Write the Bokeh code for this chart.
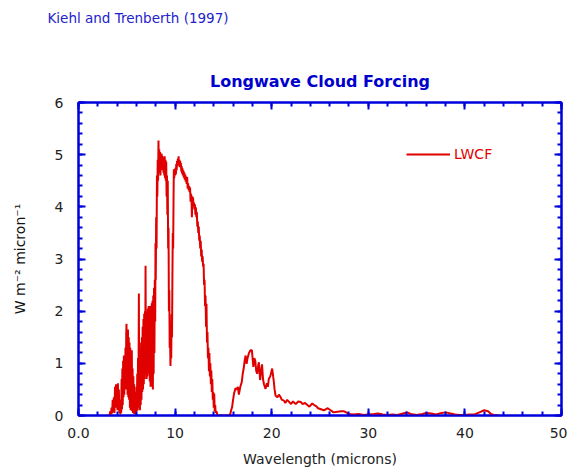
from bokeh.plotting import figure
from bokeh.models import (Range1d, LinearAxis, SingleIntervalTicker, Title,
                          Legend, LegendItem, ColumnDataSource)
from bokeh.embed import file_html
from bokeh.resources import INLINE

# ---- data ----
wavelength = [
    3.20, 3.30, 3.36, 3.42, 3.48, 3.54, 3.60, 3.66, 3.72, 3.78, 3.83, 3.88, 3.93, 3.98,
    4.03, 4.08, 4.13, 4.18, 4.23, 4.28, 4.33, 4.38, 4.42, 4.46, 4.50, 4.54, 4.58, 4.62,
    4.66, 4.70, 4.74, 4.78, 4.82, 4.86, 4.90, 4.94, 4.97, 5.00, 5.04, 5.08, 5.12, 5.16,
    5.20, 5.24, 5.28, 5.32, 5.36, 5.40, 5.44, 5.48, 5.52, 5.56, 5.60, 5.64, 5.68, 5.72,
    5.76, 5.80, 5.84, 5.88, 5.92, 5.96, 6.00, 6.04, 6.08, 6.12, 6.16, 6.20, 6.25, 6.28,
    6.32, 6.36, 6.40, 6.44, 6.48, 6.52, 6.56, 6.60, 6.64, 6.68, 6.72, 6.76, 6.80, 6.84,
    6.88, 6.91, 6.94, 6.98, 7.02, 7.06, 7.10, 7.14, 7.18, 7.22, 7.26, 7.30, 7.34, 7.38,
    7.42, 7.46, 7.50, 7.54, 7.58, 7.62, 7.66, 7.70, 7.74, 7.78, 7.82, 7.86, 7.90, 7.94,
    7.97, 8.00, 8.04, 8.08, 8.12, 8.16, 8.20, 8.24, 8.28, 8.32, 8.36, 8.40, 8.44, 8.48,
    8.52, 8.56, 8.60, 8.64, 8.68, 8.72, 8.76, 8.80, 8.84, 8.88, 8.92, 8.96, 9.00, 9.04,
    9.08, 9.12, 9.16, 9.20, 9.24, 9.28, 9.32, 9.36, 9.40, 9.44, 9.48, 9.52, 9.56, 9.60,
    9.64, 9.68, 9.72, 9.76, 9.80, 9.84, 9.87, 9.91, 9.95, 10.00, 10.04, 10.08, 10.12,
    10.16, 10.20, 10.24, 10.28, 10.32, 10.36, 10.40, 10.44, 10.48, 10.52, 10.56, 10.60,
    10.64, 10.68, 10.72, 10.76, 10.80, 10.85, 10.90, 10.95, 11.00, 11.05, 11.10, 11.15,
    11.20, 11.25, 11.30, 11.35, 11.40, 11.45, 11.50, 11.55, 11.60, 11.65, 11.70, 11.74,
    11.78, 11.82, 11.86, 11.90, 11.95, 12.00, 12.05, 12.10, 12.15, 12.20, 12.25, 12.30,
    12.35, 12.40, 12.45, 12.50, 12.55, 12.60, 12.65, 12.70, 12.75, 12.80, 12.85, 12.90,
    12.95, 13.00, 13.05, 13.10, 13.15, 13.20, 13.25, 13.30, 13.35, 13.40, 13.45, 13.50,
    13.55, 13.60, 13.65, 13.70, 13.75, 13.80, 13.85, 13.90, 13.95, 14.00, 14.05, 14.10,
    14.15, 14.20, 14.28, 14.36, 14.45, 15.00, 15.50, 15.70, 15.80, 15.90, 16.00, 16.10,
    16.25, 16.40, 16.50, 16.60, 16.75, 16.90, 17.00, 17.10, 17.20, 17.30, 17.40, 17.50,
    17.65, 17.80, 17.95, 18.10, 18.20, 18.30, 18.40, 18.50, 18.60, 18.67, 18.80, 18.90,
    19.00, 19.10, 19.20, 19.36, 19.50, 19.60, 19.70, 19.85, 20.05, 20.15, 20.20, 20.30,
    20.40, 20.60, 20.75, 20.90, 21.05, 21.25, 21.40, 21.60, 21.80, 22.00, 22.20, 22.30,
    22.50, 22.75, 23.00, 23.20, 23.45, 23.70, 23.90, 24.20, 24.40, 24.60, 24.80, 25.10,
    25.40, 25.80, 26.10, 26.40, 26.80, 27.20, 27.50, 28.00, 28.50, 29.00, 29.50, 30.00,
    30.60, 31.00, 31.50, 32.00, 32.50, 33.00, 33.60, 34.00, 34.40, 35.00, 35.60, 36.00,
    36.50, 37.00, 37.60, 38.00, 38.50, 39.00, 39.50, 40.00, 40.50, 41.00, 41.50, 42.00,
    42.40, 42.70, 43.00, 43.50,
]
lwcf = [
    0.00, 0.08, 0.02, 0.15, 0.04, 0.30, 0.08, 0.35, 0.05, 0.55, 0.15, 0.60, 0.20, 0.48,
    0.10, 0.62, 0.25, 0.50, 0.05, 0.30, 0.02, 0.20, 0.05, 0.70, 0.12, 0.90, 0.20, 1.05,
    0.35, 1.15, 0.40, 1.10, 0.55, 1.30, 0.50, 1.55, 1.76, 0.60, 1.60, 0.40, 1.65, 0.35,
    1.50, 0.30, 1.40, 0.15, 1.30, 0.10, 1.10, 0.12, 1.25, 0.08, 0.90, 0.05, 0.75, 0.04,
    0.60, 0.03, 0.45, 0.02, 0.30, 0.05, 0.55, 0.08, 0.80, 0.10, 1.10, 0.15, 2.34, 0.20,
    1.30, 0.10, 1.20, 0.20, 1.40, 0.30, 1.50, 0.45, 1.70, 0.50, 1.85, 0.60, 1.95, 0.70,
    2.00, 0.80, 2.87, 0.85, 2.00, 0.70, 1.95, 0.75, 2.05, 0.90, 2.10, 0.80, 2.00, 0.65,
    2.10, 0.55, 1.95, 0.60, 2.15, 0.55, 2.20, 0.50, 2.30, 0.80, 2.45, 1.20, 2.60, 1.80,
    3.30, 2.60, 3.80, 3.20, 4.60, 4.20, 4.90, 4.50, 5.27, 4.70, 5.10, 4.65, 5.05, 4.60,
    5.00, 4.75, 5.02, 4.70, 4.98, 4.72, 4.95, 4.65, 4.92, 4.60, 4.97, 4.55, 4.90, 4.50,
    4.87, 4.20, 4.60, 3.85, 4.50, 3.20, 3.60, 2.00, 2.40, 1.30, 1.50, 0.95, 1.30, 1.10,
    1.94, 1.50, 2.60, 3.50, 3.20, 4.20, 4.72, 4.55, 4.70, 4.60, 4.75, 4.62, 4.82,
    4.70, 4.88, 4.78, 4.92, 4.82, 4.97, 4.80, 4.90, 4.76, 4.88, 4.78, 4.84,
    4.68, 4.78, 4.64, 4.74, 4.60, 4.70, 4.56, 4.66, 4.52, 4.62, 4.48, 4.58,
    4.44, 4.57, 4.35, 4.45, 4.32, 4.40, 4.28, 4.37, 4.10, 4.25, 4.15, 3.80,
    4.20, 4.10, 4.18, 4.02, 4.08, 3.95, 4.05, 3.85, 3.99, 3.80, 3.90, 3.62,
    3.72, 3.50, 3.62, 3.35, 3.45, 3.20, 3.35, 3.05, 3.18, 2.95, 3.05, 2.85,
    2.91, 2.50, 2.60, 2.10, 2.30, 1.70, 2.14, 1.40, 1.60, 1.10, 1.30, 0.85,
    1.20, 0.75, 1.00, 0.60, 0.86, 0.45, 0.70, 0.30, 0.45, 0.15, 0.42, 0.08,
    0.20, 0.05, 0.08, 0.02, 0.00, 0.00, 0.00, 0.02, 0.10, 0.16, 0.30, 0.42,
    0.52, 0.50, 0.55, 0.40, 0.55, 0.64, 0.80, 0.90, 1.05, 1.15, 0.99, 1.10,
    1.20, 1.25, 1.25, 0.93, 1.10, 1.05, 0.85, 0.80, 0.95, 1.02, 0.68, 0.85,
    0.98, 0.70, 0.60, 0.51, 0.62, 0.55, 0.70, 0.75, 0.90, 0.75, 0.68, 0.50,
    0.38, 0.35, 0.40, 0.36, 0.30, 0.29, 0.24, 0.30, 0.26, 0.22, 0.27, 0.25,
    0.22, 0.27, 0.26, 0.22, 0.24, 0.20, 0.17, 0.23, 0.20, 0.18, 0.14, 0.12,
    0.10, 0.14, 0.10, 0.06, 0.07, 0.08, 0.08, 0.03, 0.02, 0.03, 0.01, 0.02,
    0.03, 0.04, 0.02, 0.01, 0.02, 0.01, 0.04, 0.06, 0.03, 0.01, 0.03, 0.05,
    0.04, 0.02, 0.05, 0.06, 0.04, 0.02, 0.01, 0.01, 0.02, 0.02, 0.06, 0.10,
    0.08, 0.03, 0.01, 0.00,
]
x_tick_labels = {0: "0.0", 10: "10", 20: "20", 30: "30", 40: "40", 50: "50"}
series_name = "LWCF"
title_text = "Longwave Cloud Forcing"
source_text = "Kiehl and Trenberth (1997)"

BLUE = "#0000dd"
RED = "#e00000"
FONT = "DejaVu Sans"

p = figure(frame_width=483, frame_height=313, output_backend="svg",
           toolbar_location=None, x_axis_type=None, y_axis_type=None,
           min_border_left=78, min_border_right=6, min_border_top=102,
           min_border_bottom=50)
p.x_range = Range1d(0, 50)
p.y_range = Range1d(0, 6)
p.grid.visible = False
p.outline_line_color = BLUE
p.outline_line_width = 2
p.background_fill_color = "white"
p.border_fill_color = "white"

def style_axis(ax, show_labels):
    ax.axis_line_color = BLUE
    ax.axis_line_width = 2
    ax.major_tick_line_color = BLUE
    ax.minor_tick_line_color = BLUE
    ax.major_tick_line_width = 2
    ax.minor_tick_line_width = 2
    ax.major_tick_in = 7
    ax.major_tick_out = 0
    ax.minor_tick_in = 4
    ax.minor_tick_out = 0
    if show_labels:
        ax.major_label_text_font = FONT
        ax.major_label_text_font_size = "14px"
        ax.major_label_text_color = "#222222"
    else:
        ax.major_label_text_font_size = "0px"
        ax.major_label_text_color = None
        ax.major_label_standoff = 0

xt = SingleIntervalTicker(interval=10, num_minor_ticks=5)
yt = SingleIntervalTicker(interval=1, num_minor_ticks=5)

xb = LinearAxis(ticker=xt, axis_label="Wavelength (microns)")
style_axis(xb, True)
xb.major_label_overrides = x_tick_labels
xb.major_label_standoff = 12
xb.axis_label_standoff = 10
xb.axis_label_text_font = FONT
xb.axis_label_text_font_size = "14px"
xb.axis_label_text_font_style = "normal"
xb.axis_label_text_color = "#222222"
p.add_layout(xb, "below")

yl = LinearAxis(ticker=yt, axis_label="W m\u207b\u00b2 micron\u207b\u00b9")
style_axis(yl, True)
yl.major_label_standoff = 15
yl.axis_label_standoff = 24
yl.axis_label_text_font = FONT
yl.axis_label_text_font_size = "14px"
yl.axis_label_text_font_style = "normal"
yl.axis_label_text_color = "#111111"
p.add_layout(yl, "left")

xtop = LinearAxis(ticker=SingleIntervalTicker(interval=10, num_minor_ticks=5))
style_axis(xtop, False)
p.add_layout(xtop, "above")
yr = LinearAxis(ticker=SingleIntervalTicker(interval=1, num_minor_ticks=5))
style_axis(yr, False)
p.add_layout(yr, "right")

src = ColumnDataSource(dict(x=wavelength, y=lwcf))
r = p.line("x", "y", source=src, line_color=RED, line_width=2)

legend = Legend(items=[LegendItem(label=series_name, renderers=[r])],
                location=(328, 251), glyph_width=44, glyph_height=20,
                label_standoff=4, padding=0, margin=0, spacing=0,
                border_line_color=None, background_fill_alpha=0,
                label_text_color=RED, label_text_font=FONT,
                label_text_font_size="14px")
p.add_layout(legend, "center")

main_title = Title(text=title_text, align="center", text_font=FONT,
                   text_font_size="16px", text_font_style="bold",
                   text_color="#0000cc", standoff=23)
p.add_layout(main_title, "above")

# invisible spacer (white dot on white) to separate the two header texts
spacer = Title(text=".", text_font_size="1px", text_color="white", standoff=30)
p.add_layout(spacer, "above")

p.title.text = source_text
p.title.align = "left"
p.title.offset = -31
p.title.text_font = FONT
p.title.text_font_size = "13.5px"
p.title.text_font_style = "normal"
p.title.text_color = "#2222cc"
p.title.standoff = 0

open("out.html", "w").write(file_html(p, INLINE))
